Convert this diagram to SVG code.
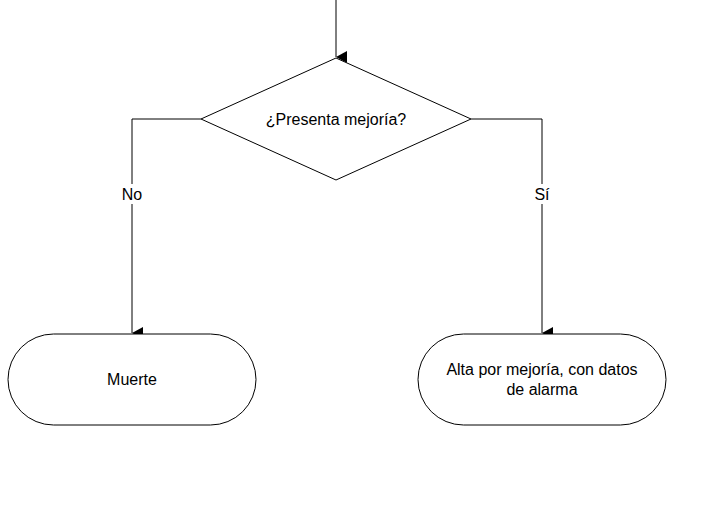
<svg xmlns="http://www.w3.org/2000/svg" width="713" height="517" viewBox="0 0 713 517">
<style>
.s{fill:#fff;stroke:#000;stroke-width:1}
.l{fill:none;stroke:#000;stroke-width:1}
text{font-family:"Liberation Sans",Arial,sans-serif;font-size:16px;fill:#000;text-anchor:middle}
</style>
<defs><marker id="a" markerWidth="12" markerHeight="12" refX="6" refY="11" orient="auto" markerUnits="userSpaceOnUse"><path d="M0,0 L12,0 L6,11 Z" fill="#000"/></marker></defs>
<rect width="713" height="517" fill="#fff"/>
<g id="connectors">
<path class="l" d="M336,0 V57" marker-end="url(#a)"/>
<path class="l" d="M201,119 H132 V333" marker-end="url(#a)"/>
<path class="l" d="M471,119 H542 V333" marker-end="url(#a)"/>
<rect x="118" y="184" width="28" height="20" fill="#fff"/>
<text x="132" y="200">No</text>
<rect x="532" y="184" width="20" height="20" fill="#fff"/>
<text x="542" y="200">Sí</text>
</g>
<g id="decision"><path class="s" d="M336,58 L471,119 L336,180 L201,119 Z"/><text x="336" y="125">¿Presenta mejoría?</text></g>
<g id="muerte"><rect class="s" x="8" y="334" width="248" height="91" rx="45.5"/><text x="132" y="385">Muerte</text></g>
<g id="alta"><rect class="s" x="418" y="334" width="248" height="91" rx="45.5"/><text x="542" y="375">Alta por mejoría, con datos</text><text x="542" y="395">de alarma</text></g>
</svg>
